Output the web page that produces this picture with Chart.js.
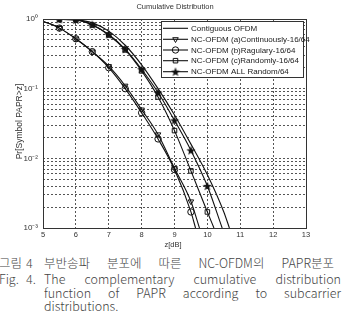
<!DOCTYPE html>
<html><head><meta charset="utf-8">
<script src="https://cdn.jsdelivr.net/npm/chart.js@4.4.0/dist/chart.umd.min.js"></script>
<style>
html,body{margin:0;padding:0;background:#fff;width:342px;height:335px;overflow:hidden;}
#wrap{position:relative;width:342px;height:335px;}
canvas{position:absolute;left:0;top:0;}
.cap{position:absolute;font-family:"Noto Sans CJK KR","Noto Sans",sans-serif;font-weight:300;color:#444;font-size:12.5px;line-height:16px;white-space:nowrap;}
.just{text-align:justify;text-align-last:justify;white-space:normal;}
</style></head>
<body><div id="wrap"><canvas id="c" width="342" height="250"></canvas>
<div class="cap" style="left:-1px;top:255px;">그림</div>
<div class="cap" style="left:26px;top:255px;">4</div>
<div class="cap just" style="left:44px;top:255px;width:290px;">부반송파 분포에 따른 NC-OFDM의 PAPR분포</div>
<div class="cap" style="left:-1px;top:271px;">Fig.</div>
<div class="cap" style="left:26px;top:271px;">4.</div>
<div class="cap just" style="left:44px;top:271px;width:297px;">The complementary cumulative distribution</div>
<div class="cap just" style="left:44px;top:285px;width:297px;">function of PAPR according to subcarrier</div>
<div class="cap" style="left:44px;top:298px;">distributions.</div>
</div>
<script>
// ---- data ----
const xTickValues = [5, 6, 7, 8, 9, 10, 11, 12, 13];
const yTickValues = [0.001,0.002,0.003,0.004,0.005,0.006,0.007,0.008,0.009,
                     0.01,0.02,0.03,0.04,0.05,0.06,0.07,0.08,0.09,
                     0.1,0.2,0.3,0.4,0.5,0.6,0.7,0.8,0.9,1];
const yLabels = {"1":"10\u2070","0.1":"10\u207B\u00B9","0.01":"10\u207B\u00B2","0.001":"10\u207B\u00B3"};

const contigZ  = [5, 5.5, 6, 6.5, 7, 7.5, 8, 8.5, 9, 9.5, 10, 10.5, 10.67];
const contigPr = [1.0, 1.0, 0.98, 0.88, 0.67, 0.42, 0.22, 0.10, 0.042, 0.016, 0.0058, 0.0017, 0.001];

const contZ  = [5, 5.5, 6, 6.5, 7, 7.5, 8, 8.5, 9, 9.5, 9.76];
const contPr = [0.93, 0.74, 0.52, 0.34, 0.21, 0.11, 0.05, 0.022, 0.0072, 0.0024, 0.001];

const regZ  = [5, 5.5, 6, 6.5, 7, 7.5, 8, 8.5, 9, 9.5, 9.64];
const regPr = [0.93, 0.74, 0.52, 0.34, 0.20, 0.10, 0.045, 0.019, 0.0069, 0.0017, 0.001];

const randZ  = [5, 5.5, 6, 6.5, 7, 7.5, 8, 8.5, 9, 9.5, 10, 10.2];
const randPr = [1.0, 0.99, 0.97, 0.82, 0.59, 0.36, 0.18, 0.076, 0.025, 0.0066, 0.0017, 0.001];

const allZ  = [5, 5.5, 6, 6.5, 7, 7.5, 8, 8.5, 9, 9.5, 10, 10.45];
const allPr = [1.0, 0.99, 0.97, 0.83, 0.60, 0.37, 0.19, 0.088, 0.035, 0.013, 0.004, 0.001];

const seriesNames = ['Contiguous OFDM','NC-OFDM (a)Continuously-16/64','NC-OFDM (b)Ragulary-16/64','NC-OFDM (c)Randomly-16/64','NC-OFDM ALL Random/64'];

// ---- build ----
function pts(z, p){ return z.map((v,i)=>({x:v, y:p[i]})); }
function starImg(){
  const s=10, c=document.createElement('canvas'); c.width=s; c.height=s;
  const g=c.getContext('2d'); g.fillStyle='#111'; g.beginPath();
  for(let i=0;i<10;i++){
    const r = i%2===0 ? 4.8 : 2.0;
    const a = -Math.PI/2 + i*Math.PI/5;
    const px = s/2 + r*Math.cos(a), py = s/2 + 0.4 + r*Math.sin(a);
    if(i===0) g.moveTo(px,py); else g.lineTo(px,py);
  }
  g.closePath(); g.fill(); return c;
}
const STAR = starImg();
const markerRadius = ctx => {
  const r = ctx.raw; if(!r) return 0;
  return (r.x > 5 && Math.abs(r.x*2 - Math.round(r.x*2)) < 1e-6 && r.y > 0.0011) ? 3.2 : 0;
};
const LC = '#111';
function ds(label, data, style, rot){
  return {label, data, borderColor:LC, borderWidth:1.1, backgroundColor:'rgba(0,0,0,0)',
    pointStyle: style, pointRotation: rot||0, pointRadius: style ? markerRadius : 0,
    pointHoverRadius:0, pointBorderColor:LC, pointBorderWidth:1,
    cubicInterpolationMode:'monotone', fill:false};
}
const datasets = [
  ds(seriesNames[0], pts(contigZ, contigPr), false),
  ds(seriesNames[1], pts(contZ, contPr), 'triangle', 180),
  ds(seriesNames[2], pts(regZ, regPr), 'circle'),
  ds(seriesNames[3], pts(randZ, randPr), 'rect'),
  ds(seriesNames[4], pts(allZ, allPr), STAR),
];

const FONT = '"Liberation Sans", Arial, sans-serif';
const deco = {
  id:'deco',
  beforeDraw(chart){
    const g=chart.ctx; g.save(); g.fillStyle='#fff'; g.fillRect(0,0,chart.width,chart.height); g.restore();
  },
  afterDraw(chart){
    const g=chart.ctx, a=chart.chartArea;
    g.save();
    // frame
    g.strokeStyle='#333'; g.lineWidth=1; g.setLineDash([]);
    g.strokeRect(Math.round(a.left)+0.5, Math.round(a.top)+0.5, Math.round(a.right-a.left), Math.round(a.bottom-a.top));
    // title
    g.fillStyle='#333'; g.font='7.5px '+FONT; g.textAlign='center'; g.textBaseline='middle';
    g.fillText('Cumulative Distribution', 175, 7);
    // x title
    g.fillText('z[dB]', 173, 245);
    // y title
    g.save(); g.translate(20, (a.top+a.bottom)/2 - 2); g.rotate(-Math.PI/2);
    g.font='8.5px '+FONT;
    g.fillText('Pr[Symbol PAPR>z]', 0, 0); g.restore();
    // legend
    const bx=161.5, by=21.5, bw=142, bh=56;
    g.fillStyle='#fff'; g.fillRect(bx,by,bw,bh);
    g.strokeStyle='#333'; g.strokeRect(bx,by,bw,bh);
    const rows=[28.3,39.3,50,60.7,71.7];
    chart.data.datasets.forEach((d,i)=>{
      const y=rows[i];
      g.strokeStyle=LC; g.lineWidth=1.1; g.beginPath(); g.moveTo(163,y); g.lineTo(188,y); g.stroke();
      if(d.pointStyle){
        g.fillStyle='rgba(0,0,0,0)'; g.strokeStyle=LC; g.lineWidth=1;
        Chart.helpers.drawPoint(g,{pointStyle:d.pointStyle, rotation:d.pointRotation, radius:3.2, borderWidth:1}, 175.5, y);
      }
      g.fillStyle='#222'; g.font='8px '+FONT; g.textAlign='left'; g.textBaseline='middle';
      g.fillText(d.label, 191, y+0.5);
    });
    g.restore();
  }
};

new Chart(document.getElementById('c'), {
  type:'line',
  data:{datasets},
  options:{
    responsive:false, animation:false, devicePixelRatio:1,
    layout:{padding:{left:0,right:36,top:19,bottom:0}},
    plugins:{legend:{display:false}, title:{display:false}, tooltip:{enabled:false}},
    elements:{line:{borderJoinStyle:'round'}},
    scales:{
      x:{type:'linear', min:5, max:13,
        afterBuildTicks: s => { s.ticks = xTickValues.map(v=>({value:v})); },
        afterFit: s => { s.height = 22; },
        ticks:{font:{size:7.5, family:FONT}, color:'#333', padding:2, maxRotation:0, autoSkip:false},
        grid:{color:'#555', lineWidth:1, drawTicks:false},
        border:{display:false, dash:[2,2]}
      },
      y:{type:'logarithmic', min:0.001, max:1,
        afterBuildTicks: s => { s.ticks = yTickValues.map(v=>({value:v})); },
        afterFit: s => { s.width = 43; },
        ticks:{font:{size:8, family:FONT}, color:'#333', padding:5, autoSkip:false,
          callback: v => yLabels[String(v)] || ''},
        grid:{color:'#555', lineWidth:1, drawTicks:false},
        border:{display:false, dash:[2,2]}
      }
    }
  },
  plugins:[deco]
});
</script>
</body></html>
